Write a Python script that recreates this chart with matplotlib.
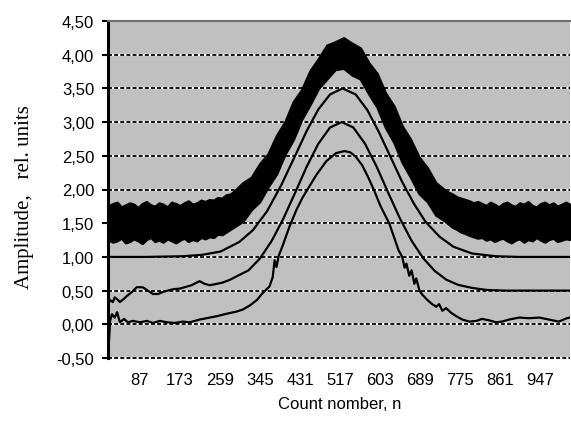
import matplotlib
matplotlib.use("Agg")
import matplotlib.pyplot as plt

# ---- data ----
band_counts = (list(range(20, 291, 9)) + list(range(308, 723, 18)) + list(range(740, 1011, 9)))
band_upper = [1.76, 1.79, 1.81, 1.74, 1.77, 1.80, 1.78, 1.73, 1.79, 1.82, 1.77, 1.75, 1.80, 1.78, 1.74,
              1.81, 1.79, 1.76, 1.80, 1.83, 1.78, 1.80, 1.84, 1.82, 1.85, 1.84, 1.88, 1.87, 1.92, 1.93,
              1.98,
              2.10, 2.18, 2.38, 2.53, 2.80, 3.00, 3.30, 3.48, 3.76, 3.94, 4.14, 4.19, 4.25, 4.17, 4.10,
              3.88, 3.72, 3.43, 3.24, 2.94, 2.74, 2.48, 2.32, 2.10,
              2.00, 1.96, 1.93, 1.89, 1.87, 1.85, 1.83, 1.80, 1.82, 1.79, 1.76, 1.81, 1.78, 1.74, 1.79,
              1.81, 1.77, 1.75, 1.80, 1.78, 1.82, 1.76, 1.74, 1.79, 1.81, 1.77, 1.80, 1.75, 1.78, 1.81,
              1.78]
band_lower = [1.25, 1.22, 1.24, 1.28, 1.21, 1.23, 1.27, 1.24, 1.20, 1.26, 1.29, 1.23, 1.25, 1.22, 1.27,
              1.24, 1.21, 1.25, 1.28, 1.23, 1.26, 1.24, 1.29, 1.27, 1.30, 1.29, 1.34, 1.33, 1.37, 1.41,
              1.45,
              1.53, 1.70, 1.82, 2.04, 2.23, 2.52, 2.74, 3.04, 3.26, 3.50, 3.64, 3.78, 3.80, 3.70, 3.64,
              3.42, 3.22, 2.92, 2.70, 2.40, 2.18, 1.94, 1.82, 1.62,
              1.54, 1.49, 1.44, 1.41, 1.37, 1.35, 1.32, 1.30, 1.28, 1.29, 1.25, 1.27, 1.23, 1.26, 1.28,
              1.24, 1.21, 1.25, 1.27, 1.22, 1.26, 1.24, 1.29, 1.25, 1.22, 1.26, 1.28, 1.23, 1.25, 1.27,
              1.26]

c2_counts = [20, 100, 180, 220, 260, 300, 330, 360, 390, 420, 445, 470, 495, 522, 550, 575, 600, 625,
             650, 675, 700, 730, 760, 800, 850, 900, 950, 1010]
c2_values = [1.00, 1.00, 1.01, 1.03, 1.08, 1.22, 1.40, 1.68, 2.06, 2.50, 2.87, 3.19, 3.41, 3.50, 3.41,
             3.18, 2.85, 2.48, 2.11, 1.79, 1.52, 1.30, 1.15, 1.05, 1.01, 1.00, 1.00, 1.00]

c3_counts = [18, 23, 29, 33, 40, 44, 53, 59, 70, 80, 93, 104, 115, 126, 136, 147, 158, 173, 188, 198,
             209, 215, 226, 237, 252, 265, 280, 297, 320, 345, 370, 395, 420, 445, 470, 495, 520, 545,
             570, 595, 620, 645, 670, 695, 720, 745, 770, 800, 830, 870, 920, 970, 1010]
c3_values = [0.28, 0.36, 0.33, 0.40, 0.36, 0.33, 0.38, 0.42, 0.48, 0.55, 0.55, 0.50, 0.45, 0.45, 0.48,
             0.50, 0.52, 0.53, 0.56, 0.58, 0.62, 0.64, 0.60, 0.58, 0.60, 0.62, 0.66, 0.72, 0.80, 0.98,
             1.24, 1.57, 1.95, 2.34, 2.68, 2.92, 3.00, 2.92, 2.68, 2.34, 1.95, 1.57, 1.24, 0.98, 0.79,
             0.66, 0.585, 0.54, 0.51, 0.50, 0.50, 0.50, 0.50]

c4_counts = [18, 21, 23, 27, 33, 38, 44, 53, 61, 72, 87, 102, 115, 130, 145, 162, 179, 194, 215, 237,
             252, 269, 295, 308, 323, 338, 350, 365, 372, 376, 380, 385, 393, 408, 423, 436, 451, 466,
             487, 508, 526, 539, 551, 564, 577, 590, 603, 616, 622, 629, 642, 650, 655, 659, 665, 670,
             676, 680, 687, 693, 704, 714, 723, 729, 736, 744, 755, 766, 779, 794, 809, 821, 836, 851,
             864, 879, 901, 922, 944, 965, 986, 1003, 1010]
c4_values = [-0.50, -0.20, 0.05, 0.15, 0.10, 0.18, 0.03, 0.08, 0.03, 0.05, 0.03, 0.05, 0.02, 0.05, 0.03,
             0.02, 0.04, 0.03, 0.07, 0.10, 0.12, 0.15, 0.19, 0.22, 0.28, 0.36, 0.46, 0.56, 0.70, 0.95,
             0.85, 1.02, 1.16, 1.45, 1.70, 1.88, 2.05, 2.22, 2.42, 2.54, 2.57, 2.55, 2.48, 2.36, 2.18,
             1.98, 1.76, 1.58, 1.50, 1.36, 1.10, 1.00, 0.84, 0.90, 0.72, 0.80, 0.60, 0.68, 0.50, 0.44,
             0.36, 0.30, 0.26, 0.30, 0.20, 0.24, 0.17, 0.12, 0.07, 0.04, 0.05, 0.08, 0.06, 0.03, 0.04,
             0.07, 0.10, 0.09, 0.10, 0.07, 0.04, 0.09, 0.10]

x_ticks = [87, 173, 259, 345, 431, 517, 603, 689, 775, 861, 947]
y_ticks = [-0.5, 0.0, 0.5, 1.0, 1.5, 2.0, 2.5, 3.0, 3.5, 4.0, 4.5]
y_labels = ["-0,50", "0,00", "0,50", "1,00", "1,50", "2,00", "2,50", "3,00", "3,50", "4,00", "4,50"]

# ---- figure ----
W, H = 571, 427
fig = plt.figure(figsize=(W / 100, H / 100), dpi=100)
fig.patch.set_facecolor("white")
ax = fig.add_axes([108 / W, 1 - 359 / H, (570 - 108) / W, (359 - 22) / H])
ax.set_facecolor("#c0c0c0")
ax.set_xlim(18.5, 1010)
ax.set_ylim(-0.5, 4.5)

# gridlines
for yv in y_ticks[:-1]:
    ax.axhline(yv, color="white", lw=1.6, zorder=1, clip_on=False)
    ax.axhline(yv, color="black", lw=1.3, ls=(0, (2.2, 1.2)), zorder=1.1, clip_on=False)

ax.fill_between(band_counts, band_lower, band_upper, color="black", lw=1.8,
                edgecolor="black", zorder=3)
ax.plot(c2_counts, c2_values, color="black", lw=1.6, zorder=4)
ax.plot(c3_counts, c3_values, color="black", lw=1.6, zorder=4)
ax.plot(c4_counts, c4_values, color="black", lw=1.6, zorder=4)

font = "Liberation Sans"
ax.set_yticks(y_ticks)
ax.set_yticklabels(y_labels, fontfamily=font, fontsize=12)
ax.set_xticks(x_ticks)
ax.set_xticklabels([str(v) for v in x_ticks], fontfamily=font, fontsize=12)
ax.tick_params(axis="y", direction="out", length=4, width=1.5, pad=6)
ax.tick_params(axis="x", length=0, pad=10)

for s in ["right", "bottom"]:
    ax.spines[s].set_visible(False)
ax.spines["left"].set_linewidth(2.2)
ax.spines["left"].set_color("black")
ax.spines["top"].set_linewidth(1.5)
ax.spines["top"].set_color("#707070")

fig.text(340 / W, 1 - 405 / H, "Count nomber, n", ha="center", va="center",
         fontfamily=font, fontsize=12)
fig.text(25 / W, 1 - 197 / H, "Amplitude,   rel. units", ha="center", va="center",
         rotation=90, fontfamily="Liberation Serif", fontsize=15)

fig.savefig("out.png", dpi=100)
